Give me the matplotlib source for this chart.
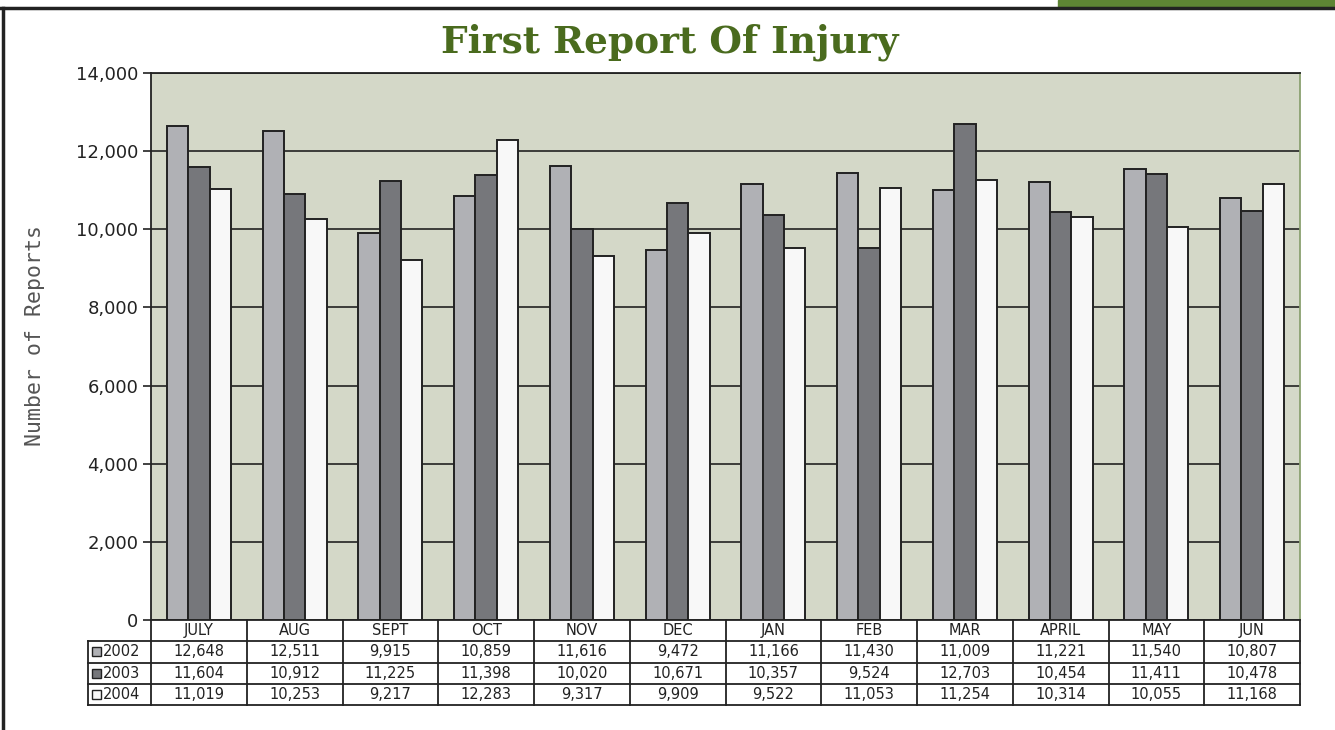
import matplotlib.pyplot as plt
import numpy as np
from matplotlib.patches import Rectangle

months = ["JULY", "AUG", "SEPT", "OCT", "NOV", "DEC", "JAN", "FEB", "MAR", "APRIL", "MAY", "JUN"]
years = ["2002", "2003", "2004"]
r2002 = [12648, 12511, 9915, 10859, 11616, 9472, 11166, 11430, 11009, 11221, 11540, 10807]
r2003 = [11604, 10912, 11225, 11398, 10020, 10671, 10357, 9524, 12703, 10454, 11411, 10478]
r2004 = [11019, 10253, 9217, 12283, 9317, 9909, 9522, 11053, 11254, 10314, 10055, 11168]
colors = ["#b0b1b5", "#76777b", "#f8f8f8"]

W, H = 1335, 730
fig = plt.figure(figsize=(W / 100, H / 100), dpi=100)

# page frame and green strip
fig.add_artist(plt.Line2D([0, 1], [1 - 8 / H] * 2, color="#222222", lw=2.5))
fig.add_artist(plt.Line2D([3 / W] * 2, [0, 1 - 8 / H], color="#222222", lw=2.5))
fig.add_artist(Rectangle((1058 / W, 1 - 7 / H), 1 - 1058 / W, 7 / H, color="#5e8534"))

AX_L, AX_B, AX_W, AX_H = 151, 620, 1149, 547
ax = fig.add_axes([AX_L / W, 1 - AX_B / H, AX_W / W, AX_H / H])
ax.set_facecolor("#d4d8c8")

x = np.arange(len(months))
bw = 0.223
for i, vals in enumerate([r2002, r2003, r2004]):
    ax.bar(x + (i - 1) * bw, vals, bw, color=colors[i], edgecolor="#222222", lw=1.4, zorder=3)

ax.set_xlim(-0.5, len(months) - 0.5)
ax.set_ylim(0, 14000)
ax.set_yticks(range(0, 14001, 2000))
ax.set_yticklabels([f"{v:,}" for v in range(0, 14001, 2000)], fontsize=13, color="#222222")
ax.yaxis.grid(True, color="#222222", lw=1.2, zorder=1)
ax.set_xticks([])
ax.tick_params(axis="y", length=6, width=1.2, color="#222222", pad=3)
for s in ["top", "left", "bottom"]:
    ax.spines[s].set_color("#222222")
    ax.spines[s].set_linewidth(1.3)
ax.spines["right"].set_color("#8aa070")
ax.spines["right"].set_linewidth(1.3)

fig.text(35 / W, 1 - 336 / H, "Number of Reports", family="DejaVu Sans Mono", fontsize=15.5,
         color="#555555", rotation=90, ha="center", va="center")


# data table below the axes, drawn in pixel positions relative to the axes
def ax_x(px):
    return (px - AX_L) / AX_W


def ax_y(py):
    return (AX_B - py) / AX_H


def line(xs, ys):
    ax.add_line(plt.Line2D([ax_x(v) for v in xs], [ax_y(v) for v in ys], color="#222222",
                           lw=1.3, transform=ax.transAxes, clip_on=False, zorder=6))


row_y = [620, 641, 662.5, 684, 705]
col_w = AX_W / len(months)
col_x = [AX_L + col_w * k for k in range(len(months) + 1)]
lab_x = 88
for k, cx in enumerate(col_x):
    line([cx, cx], [row_y[0], row_y[-1]])
line([lab_x, lab_x], [row_y[1], row_y[-1]])
for ry in row_y[1:]:
    line([lab_x, col_x[-1]], [ry, ry])

for j, m in enumerate(months):
    ax.text(ax_x(col_x[j] + col_w / 2), ax_y((row_y[0] + row_y[1]) / 2), m, transform=ax.transAxes,
            ha="center", va="center", fontsize=10.5, color="#222222")
for i, vals in enumerate([r2002, r2003, r2004]):
    yc = (row_y[i + 1] + row_y[i + 2]) / 2
    ax.add_patch(Rectangle((ax_x(92), ax_y(yc + 4.5)), 9 / AX_W, 9 / AX_H, transform=ax.transAxes,
                           facecolor=colors[i], edgecolor="#222222", lw=1, clip_on=False, zorder=6))
    ax.text(ax_x(103), ax_y(yc), years[i], transform=ax.transAxes, ha="left", va="center",
            fontsize=10.5, color="#222222")
    for j, v in enumerate(vals):
        ax.text(ax_x(col_x[j] + col_w / 2), ax_y(yc), f"{v:,}", transform=ax.transAxes,
                ha="center", va="center", fontsize=10.5, color="#222222")

fig.text(0.502, 0.942, "First Report Of Injury", ha="center", va="center",
         family="DejaVu Serif", fontweight="bold", fontsize=27, color="#4a6b1e")

fig.savefig("out.png", dpi=100)
